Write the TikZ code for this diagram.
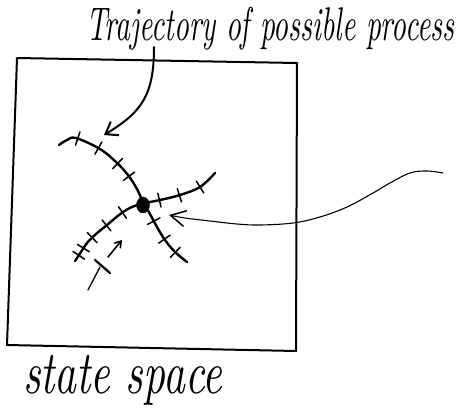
\documentclass[tikz,border=0pt]{standalone}
\usetikzlibrary{arrows.meta,decorations.markings,shapes.geometric}
\begin{document}
\begin{tikzpicture}[x=1pt,y=-1pt,
  sketch/.style={line width=2pt,line cap=round,line join=round},
  thin sketch/.style={line width=1.1pt,line cap=round},
  label text/.style={inner sep=0pt,anchor=north west,font=\itshape}
]
\useasboundingbox (0,0) rectangle (458,408);

% state space box
\draw[sketch] (17,58) -- (297,63) -- (296,351) -- (7,345) -- cycle;

% labels
\node[label text] (title) at (86,7) {\resizebox*{368pt}{43pt}{Trajectory of possible process}};
\node[label text] (space) at (23,355) {\resizebox*{199pt}{50pt}{state space}};

% arrow from title to trajectory
\coordinate (titlefoot) at (154,47);
\coordinate (trajtip) at (104,135);
\draw[sketch,-{Straight Barb[length=11pt,width=16pt,line width=2pt]}]
  (titlefoot) .. controls (154,95) and (142,112) .. (trajtip);

% trajectory A (top-left to bottom-right)
\draw[line width=2.4pt,line cap=round,
  postaction={decorate,decoration={markings,
    mark=at position 0.11 with {\draw[line width=1.5pt] (0pt,-7pt) -- (0pt,7pt);},
    mark=at position 0.23 with {\draw[line width=1.5pt] (0pt,-7pt) -- (0pt,7pt);},
    mark=at position 0.36 with {\draw[line width=1.5pt] (0pt,-7pt) -- (0pt,7pt);},
    mark=at position 0.45 with {\draw[line width=1.5pt] (0pt,-7pt) -- (0pt,7pt);},
    mark=at position 0.72 with {\draw[line width=1.5pt] (0pt,-7pt) -- (0pt,7pt);},
    mark=at position 0.83 with {\draw[line width=1.5pt] (0pt,-7pt) -- (0pt,7pt);},
    mark=at position 0.92 with {\draw[line width=1.5pt] (0pt,-7pt) -- (0pt,7pt);}}}]
  plot[smooth,tension=0.6] coordinates {(59,145) (67,140) (76,138) (100,149) (116,162) (128,175) (137,189) (143,202) (150,214) (157,227) (165,240) (175,252) (187,262)};

% trajectory B (bottom-left to top-right)
\draw[line width=2.4pt,line cap=round,
  postaction={decorate,decoration={markings,
    mark=at position 0.04 with {\draw[line width=1.5pt] (0pt,-7pt) -- (0pt,7pt);},
    mark=at position 0.09 with {\draw[line width=1.5pt] (0pt,-7pt) -- (0pt,7pt);},
    mark=at position 0.17 with {\draw[line width=1.5pt] (0pt,-7pt) -- (0pt,7pt);},
    mark=at position 0.28 with {\draw[line width=1.5pt] (0pt,-7pt) -- (0pt,7pt);},
    mark=at position 0.40 with {\draw[line width=1.5pt] (0pt,-7pt) -- (0pt,7pt);},
    mark=at position 0.63 with {\draw[line width=1.5pt] (0pt,-7pt) -- (0pt,7pt);},
    mark=at position 0.75 with {\draw[line width=1.5pt] (0pt,-7pt) -- (0pt,7pt);},
    mark=at position 0.88 with {\draw[line width=1.5pt] (0pt,-7pt) -- (0pt,7pt);}}}]
  plot[smooth,tension=0.6] coordinates {(75,261) (81,252) (87,243) (96,234) (107,225) (123,212) (137,205) (150,202) (160,200) (180,195) (200,187) (215,173)};

% current state dot
\node[draw,fill=black,ellipse,minimum width=13pt,minimum height=16pt,inner sep=0pt] (dot) at (143,205) {};

% small direction arrow
\coordinate (da) at (108,257);
\coordinate (db) at (122,240);
\draw[line width=1.6pt,line cap=round,-{Straight Barb[length=6pt,width=8pt,line width=1.6pt]}] (da) -- (db);

% small extra stroke with crossbar
\coordinate (sa) at (88,290);
\coordinate (sb) at (100,267);
\coordinate (sc) at (95,260);
\coordinate (sd) at (110,273);
\draw[line width=1.3pt,line cap=round] (sa) -- (sb);
\draw[line width=2.2pt,line cap=round] (sc) -- (sd);

% pointer to the dot
\coordinate (pstart) at (443,173);
\coordinate (ptip) at (169,215);
\draw[thin sketch,-{Straight Barb[length=15pt,width=16pt,line width=1.5pt]}]
  plot[smooth,tension=0.6] coordinates {(pstart) (427,171) (410,173) (390,183) (373,193) (347,207) (320,217) (293,223) (260,225) (237,224) (210,221) (185,218) (ptip)};
\end{tikzpicture}
\end{document}
